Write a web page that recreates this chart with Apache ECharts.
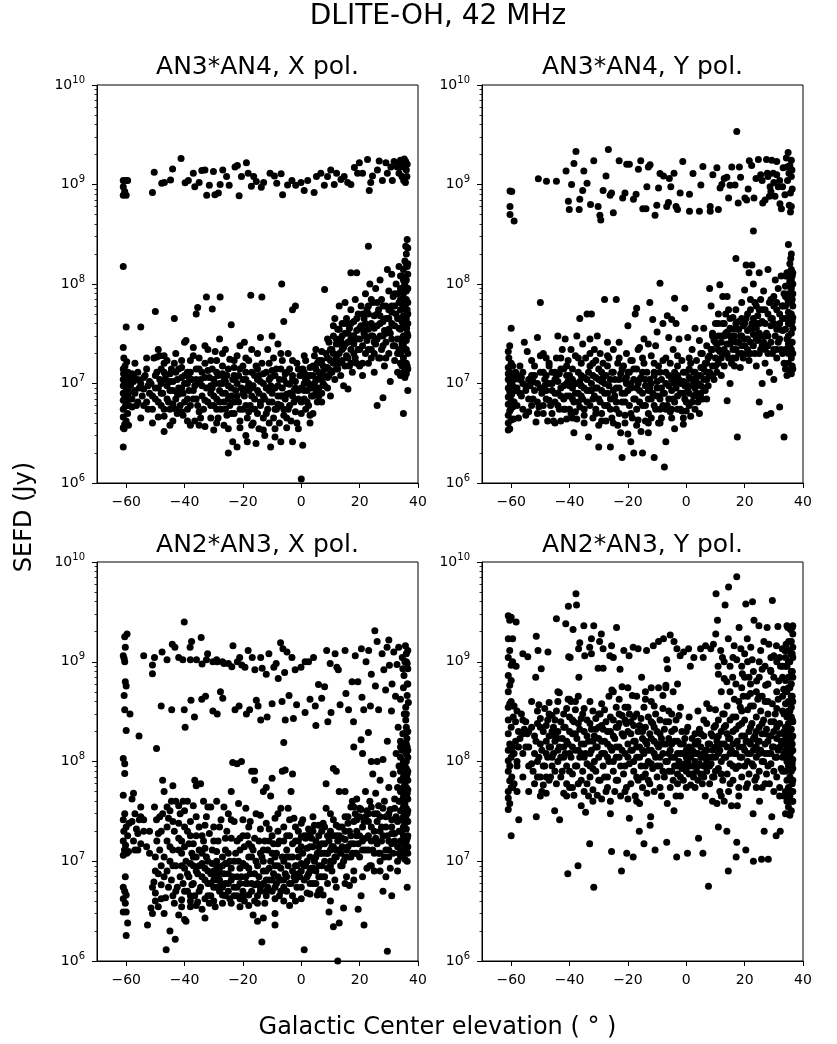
<!DOCTYPE html>
<html><head><meta charset="utf-8">
<script src="https://cdn.jsdelivr.net/npm/echarts@6/dist/echarts.min.js"></script>
<style>html,body{margin:0;padding:0;background:#fff}#c{width:837px;height:1044px}</style>
</head><body><div id="c"></div>
<script>
const SUPTITLE='DLITE-OH, 42 MHz';
const TITLES=['AN3*AN4, X pol.','AN3*AN4, Y pol.','AN2*AN3, X pol.','AN2*AN3, Y pol.'];
const X_LABEL='Galactic Center elevation ( \u00b0 )';
const Y_LABEL='SEFD (Jy)';
const X_TICKS=[-60,-40,-20,0,20,40];
const X_MIN=-70, X_MAX=40, Y_MIN=1e6, Y_MAX=1e10;

// ---- AN3*AN4, X pol. ----
const an34x_upper=[[-61,1.1e9],[-60,1.1e9],[-61,9.5e8],[-60.5,8.5e8],[-60,7.8e8],[-59.5,1.1e9],[-61,7.8e8],[-51,8.3e8],[-50.4,1.33e9],[-47.8,1.03e9],[-46.9,1.05e9],[-44.8,1.11e9],[-44.1,1.43e9],[-41.2,1.83e9],[-39.8,1.04e9],[-38.7,1.1e9],[-37,1.3e9],[-36.5,9.5e8],[-35,1.05e9],[-34.1,1.38e9],[-33,1.4e9],[-32.4,7.8e8],[-31.5,9.8e8],[-30.1,1.35e9],[-29.6,7.9e8],[-28.4,8.2e8],[-27.8,1e9],[-26.9,1.4e9],[-25.6,1.2e9],[-24.7,9.8e8],[-22.7,1.5e9],[-21.9,1.55e9],[-21.3,7.7e8],[-20.5,1.2e9],[-18.8,1.65e9],[-18.2,1.3e9],[-17.1,9.6e8],[-16.3,1.2e9],[-15.4,1.07e9],[-13.7,9.4e8],[-12.9,1.05e9],[-10.7,1.3e9],[-9.2,1.22e9],[-8.4,1.03e9],[-6.9,1.28e9],[-6.4,7.9e8],[-4.7,9.9e8],[-3.2,1.1e9],[-1.9,9.8e8],[-0.1,1.05e9],[1,8.7e8],[2.2,1.1e9],[4.4,8.3e8],[5.2,1.2e9],[6.7,1.3e9],[7.9,9.8e8],[9,1.2e9],[10.1,1.4e9],[11.3,1e9],[12.1,1.3e9],[13.6,1.12e9],[14.7,1.2e9],[15.9,1.05e9],[17,1e9],[18.2,1.48e9],[19.3,1.3e9],[19.9,1.65e9],[21,1.3e9],[22.7,1.78e9],[23.3,8.7e8],[23.8,1.05e9],[24.4,1.22e9],[26.1,1.4e9],[26.7,1.72e9],[27.8,1.1e9],[29,1.65e9],[29.5,1.3e9],[30.7,1.5e9],[31.2,1.1e9],[31.8,1.7e9],[32.9,1.5e9],[33.5,1.3e9],[34,1.75e9],[34.6,1.5e9],[35.1,1.1e9],[35.5,1.55e9],[35.7,1.05e9],[36,1.4e9],[36.2,1.2e9],[35.8,1.7e9],[34.5,1.2e9],[33.2,1.62e9],[36.3,1.6e9],[35.3,1.8e9]];
const an34x_lower=[[-61,2.3e6],[-61,3.6e6],[-60.5,3.9e6],[-60,4.2e6],[-61,4.6e6],[-59.5,5e6],[-61,5.5e6],[-60.3,5.9e6],[-59.8,6.3e6],[-61,6.8e6],[-60.5,7.2e6],[-59.5,7.6e6],[-61,8e6],[-60,8.5e6],[-59.3,9e6],[-61,9.5e6],[-60.5,1.0e7],[-59.6,1.05e7],[-61,1.1e7],[-60.2,1.2e7],[-59.4,1.3e7],[-61,1.4e7],[-60.4,1.5e7],[-59.8,1.65e7],[-60.8,1.8e7],[-61,2.3e7],[-60,3.7e7],[-61,1.5e8],[-60.7,3.5e6],[-59.2,3.8e6],[-60,6.8e6],[-59,8.2e6],[-58.8,1.1e7],[-60.9,1.25e7],[-59.1,6e6],[-58.5,9.6e6],
[-58,7e6],[-57.5,1.05e7],[-57,8.5e6],[-56.5,6e6],[-56,1.1e7],[-55.5,9e6],[-55,3.7e7],[-54.5,7.5e6],[-54,1.15e7],[-53.5,1.2e7],[-53,6.5e6],[-52.5,5.5e6],[-52,8e6],[-51.5,1.0e7],[-51,5.5e6],[-50.5,1.8e7],[-50,5.3e7],[-50,7e6],[-49.5,1.85e7],[-49.5,1.3e7],
[-49,9e6],[-49,4.6e6],[-48.5,1.1e7],[-48.5,1.9e7],[-48,6e6],[-48,1.4e7],[-47.5,8e6],[-47,3.3e6],[-47,1.9e7],[-47,4.7e6],[-46.5,1.2e7],[-46,9.5e6],[-46,1.7e7],[-45.5,6.5e6],[-45,1.05e7],[-45,5.5e6],[-44.5,1.4e7],[-44,8.5e6],[-44,4.2e6],[-43.5,4.5e7],[-43.5,1.6e7],[-43,7e6],[-42.5,1.1e7],[-42.5,5e6],[-42,9e6],[-42,1.4e7],[-41.5,6e6],[-41,1.7e7],[-41,1.15e7],[-40.5,4.8e6],[-40.5,8e6],[-40,1.0e7],[-40,2.6e7],[-40,6.5e6],[-39.5,2.7e7],
[-39,1.3e7],[-39,5.5e6],[-38.5,8.5e6],[-38,3.8e6],[-38,1.7e7],[-37.5,1.1e7],[-37,7e6],[-37,2.3e7],[-36.5,4.2e6],[-36.5,9.5e6],[-36,5e7],[-36,1.4e7],[-35.5,6e6],[-35.5,5.8e7],[-35,1.0e7],[-35,1.8e7],[-34.5,4.5e6],[-34,7.5e6],[-34,1.3e7],[-33.5,5.5e6],[-33,1.6e7],[-33,3.7e6],[-32.5,9e6],[-32.5,7.4e7],[-32,2.2e7],[-32,6.5e6],[-31.5,1.15e7],[-31,4.5e6],[-31,8e6],[-30.5,1.4e7],[-30.5,5.6e7],[-30,3.4e6],[-30,6e6],[-29.5,1.0e7],[-29.5,2.1e7],[-29,7e6],[-29,1.7e7],[-28.5,4.5e6],[-28.5,1.2e7],[-28,8.5e6],[-28,2.8e7],[-27.8,7.4e7],[-27.5,5.5e6],[-27,1.0e7],[-27,1.5e7],[-26.5,6.5e6],[-26.5,3.8e6],[-26,8e6],[-26,2.2e7],[-25.5,1.2e7],[-25.5,4.8e6],[-25,2e6],[-25,9.5e6],[-24.5,6e6],[-24.5,1.75e7],[-24,3.9e7],[-24,7.5e6],[-23.5,1.1e7],[-23.5,2.6e6],[-23,5e6],[-23,1.45e7],[-22.5,8.5e6],[-22,2.3e6],[-22,1.9e7],[-21.5,6.5e6],[-21.5,1.2e7],[-21,3.6e6],[-21,2.4e7],[-20.5,9e6],[-20,5.5e6],[-20,1.5e7],
[-19.5,7.5e6],[-19.5,2.6e7],[-19,3e6],[-19,1.1e7],[-18.5,4.5e6],[-18.5,2.6e6],[-18,8.5e6],[-18,1.7e7],[-17.5,6e6],[-17.3,7.7e7],[-17,1.3e7],[-17,2.2e7],[-16.5,4e6],[-16.5,9.5e6],[-16,7e6],[-15.5,1.5e7],[-15.5,2.5e6],[-15,5e6],[-15,1.1e7],[-14.5,3.5e6],[-14.5,8e6],[-14,2.9e7],[-14,6e6],[-13.5,7.4e7],[-13.5,1.6e7],[-13,4.5e6],[-13,1.0e7],[-12.5,3e6],[-12.5,7e6],[-12,1.3e7],[-11.5,5.5e6],[-11.5,2.2e7],[-11,8.5e6],[-11,4e6],[-10.5,1.15e7],[-10.5,2.3e6],[-10,6.5e6],[-10,3e7],[-9.5,1.8e7],[-9.5,4.5e6],[-9,9e6],[-9,2.9e6],[-8.5,5.5e6],[-8.5,1.4e7],[-8,7.5e6],[-8,2.5e7],[-7.5,4e6],[-7.5,1.1e7],[-7,2.6e6],[-7,6e6],[-6.7,1.0e8],[-6.5,9e6],[-6.5,1.7e7],[-6,4.8e6],[-6,4.2e7],[-5.5,1.25e7],[-5.5,7e6],[-5,3.6e6],[-5,1.0e7],[-4.5,5.5e6],[-4.5,2e7],[-4,8e6],[-4,1.4e7],[-3.5,4.2e6],[-3,2.6e6],[-3,5.5e7],[-3,1.1e7],[-2.5,6.5e6],[-2,6e7],[-2,9e6],[-1.5,1.6e7],[-1.5,4e6],[-1,7e6],[-0.5,1.2e7],[0,5e6],[0,9e6],[0,1.1e6],[0.5,2.4e6],
[0.5,1.4e7],[1,7e6],[1,1.0e7],[1.5,5.5e6],[1.5,1.7e7],[2,8.5e6],[2,1.2e7],[2.5,6e6],[2.5,1.0e7],[3,4.8e6],[3,1.45e7],[3.5,9e6],[3.5,7.5e6],[4,1.2e7],[4,5e6],[4.5,1.9e7],[4.5,1.0e7],[5,8e6],[5,1.4e7],[5.5,6.5e6],[5.5,1.1e7],[6,1.7e7],[6,9e6],[6.5,1.25e7],[7,6.5e6],[7,2.1e7],[7.5,1.0e7],[7.5,1.5e7],[8,8.8e7],[8,1.2e7],[8.5,2.0e7],[9,9e6],[9,1.45e7],[9.5,2.6e7],[9.5,1.2e7],[10,1.7e7],[10,7.5e6],
[10.5,2.2e7],[10.5,1.3e7],[11,3e7],[11,1.6e7],[11.5,1.1e7],[11.5,4.5e7],[12,2.5e7],[12,1.8e7],[12.5,3.5e7],[12.5,1.4e7],[13,2e7],[13,6e7],[13.5,2.8e7],[13.5,1.2e7],[14,4e7],[14,1.7e7],[14.5,2.3e7],[14.5,9.5e6],[15,3.2e7],[15,6.5e7],[15.5,1.9e7],[15.5,4.5e7],[16,2.6e7],[16,8.8e6],[16.5,1.5e7],[16.5,3.6e7],[17,5.5e7],[17,1.3e8],[17,2.2e7],[17.5,3e7],[17.5,1.3e7],[18,4.2e7],[18,2.5e7],[18.5,7e7],[18.5,1.8e7],[19,1.3e8],[19,3.4e7],[19.5,2.2e7],[19.5,5e7],[20,1.5e7],[20,2.8e7],[20.5,3.8e7],[20.5,6e7],[21,2.4e7],[21,1.2e7],[21.5,4.5e7],[21.5,3.2e7],[22,2e7],[22,8e7],[22.5,2.7e7],[22.5,5.5e7],[23,2.4e8],[23,3.5e7],[23,1.6e7],[23.5,1.0e8],[24,4e7],[24,2.2e7],[24.5,6.5e7],[24.5,3e7],[25,1.3e7],[25,4.8e7],[25.5,2.5e7],[25.5,9e7],[26,6e6],[26,3.8e7],[26.5,1.8e7],[26.5,5.5e7],[27,1.1e8],[27,3e7],[27.5,2.2e7],[27.5,7e7],[28,7.2e6],[28,4.2e7],[28.5,1.5e7],[28.5,3.4e7],[29,6e7],[29,2.6e7],[29.5,1.4e8],[29.5,4.5e7],[30,2e7],[30,8.5e7],[30.5,3.2e7],[30.5,1.05e7],[31,5.2e7],[31,1.25e8],[31.5,2.4e7],[31.5,7.5e7],[32,3.8e7],[32,1.7e7],[32.5,1.0e8],[32.5,5e7],[33,2.8e7],[33,1.3e7],[33.5,6.5e7],[33.5,1.5e8],
[34,1.2e7],[34,2e7],[34,3.5e7],[34,5.5e7],[34,9e7],[34.5,1.5e7],[34.5,2.5e7],[34.5,4.2e7],[34.5,7e7],[34.5,1.2e8],[35,5e6],[35,1.3e7],[35,1.8e7],[35,3e7],[35,4.8e7],[35,8e7],[35,1.4e8],[35.5,1.15e7],[35.5,2.2e7],[35.5,3.8e7],[35.5,6e7],[35.5,1.0e8],[35.5,1.7e8],[36,1.25e7],[36,1.6e7],[36,2.7e7],[36,4.5e7],[36,7e7],[36,1.1e8],[36,2e8],[36.3,2.8e8],[36.3,1.5e7],[36.3,3.2e7],[36.3,5.5e7],[36.3,9e7],[36.3,1.5e8],[36.5,8.5e6],[36.5,2e7],[36.5,4e7],[36.5,6.5e7],[36.5,1.25e8],[35.8,2.4e8],[34.8,6e7],[35.3,9.5e7],[36.1,3.6e7]];
const an34x_core=[[-58,5.8e6],[-58,1.25e7],[-57,8e6],[-56,6.5e6],[-56,1.3e7],[-55,1.0e7],[-54,6e6],[-54,8.8e6],[-53,1.4e7],[-52,1.05e7],[-51,7.5e6],[-50,9e6],[-50,1.2e7],[-49,6.5e6],[-48,8e6],[-48,1.0e7],[-47,1.3e7],[-47,5.5e6],[-46,7e6],[-45,8.5e6],[-45,1.25e7],[-44,1.05e7],[-44,6.2e6],[-43,5.5e6],[-43,1.3e7],[-42,7.8e6],[-41,9e6],[-41,5.2e6],[-40,1.2e7],[-39,7e6],[-39,1.0e7],[-38,6e6],[-38,1.3e7],[-37,8.5e6],[-36,1.1e7],[-36,7e6],[-35,1.4e7],[-35,5.2e6],[-34,9.5e6],[-33,6.8e6],[-33,1.15e7],[-32,1.35e7],[-31,9.5e6],[-31,6e6],[-30,7.5e6],[-30,1.1e7],[-29,5.5e6],[-29,1.3e7],[-28,1.0e7],[-28,6.5e6],[-27,8e6],[-27,1.25e7],[-26,5.5e6],[-26,1.05e7],[-25,7e6],[-25,1.4e7],[-24,9e6],[-24,5e6],[-23,6.5e6],[-23,1.2e7],[-22,1.0e7],[-22,7.5e6],[-21,5.5e6],[-21,1.4e7],[-20,8e6],[-20,1.1e7],[-19,6e6],[-19,1.3e7],[-18,1.0e7],[-18,5.2e6],[-17,7.5e6],[-17,9e6],[-16,1.2e7],[-16,5.5e6],[-15,8.5e6],[-15,1.4e7],[-14,6.5e6],[-14,1.05e7],[-13,7.5e6],[-13,1.25e7],[-12,5e6],[-12,9e6],[-11,6.5e6],[-11,1.1e7],[-10,8e6],[-10,1.35e7],[-9,5.5e6],[-9,1.2e7],[-8,9.5e6],[-8,6.2e6],[-7,7.5e6],[-7,1.4e7],[-6,1.1e7],[-6,5.5e6],[-5,7.8e6],[-5,1.3e7],[-4,6e6],[-4,9.8e6],[-3,1.2e7],[-3,7.5e6],[-2,5.2e6],[-2,1.05e7],[-1,8.5e6],[-1,1.4e7],[0,6.5e6],[0,1.2e7],[1,8.5e6],[1,1.3e7],[2,6.5e6],[2,1.05e7],[3,9.5e6],[3,1.2e7],[4,7.5e6],[4,1.5e7],[5,1.1e7],[5,9e6],[6,1.3e7],[6,7.5e6],[7,1.1e7],[7,1.7e7],[8,1.4e7],[8,9.5e6],[9,1.8e7],[9,1.15e7],[10,1.35e7],[10,2.2e7],
[11,2e7],[12,2.8e7],[12,1.4e7],[13,1.6e7],[13,3.5e7],[14,2.2e7],[14,3e7],[15,1.5e7],[15,2.5e7],[16,3.2e7],[16,1.8e7],[17,4e7],[17,1.6e7],[18,2e7],[18,3e7],[19,2.8e7],[19,4.5e7],[20,2.2e7],[20,3.6e7],[21,1.6e7],[21,5e7],[22,3e7],[22,4e7],[23,2.2e7],[23,5e7],[24,3e7],[24,7e7],[25,3.6e7],[25,2e7],[26,5e7],[26,2.8e7],[27,4e7],[27,1.8e7],[28,3e7],[28,6e7],[29,4.5e7],[29,1.8e7],[30,3.5e7],[30,5.5e7],[31,2.8e7],[31,4e7],[32,6e7],[32,2.4e7],[33,4.5e7],[33,8e7],[33.5,2.2e7],[33.5,3.6e7],[34,1.6e7],[34,2.8e7],[34,4.5e7],[34,7e7],[34,1.2e8],[35,2.4e7],[35,3.8e7],[35,6.5e7],[35,1.1e8],[36,2.2e7],[36,5.5e7],[36,8.5e7],[36,1.6e8],[36.5,3e7],[36.5,5e7],[36.5,9e7],[36.5,1.6e8],[36.5,1.4e7],[36.5,2.3e8]];
const an34x_edge=[[-57,1.6e7],[-55,4.5e6],[-53,1.8e7],[-51,4e6],[-49,2.2e7],[-47,1.6e7],[-45,3.8e6],[-43,2e7],[-41,1.45e7],[-39,4.2e6],[-37,1.9e7],[-35,3.8e6],[-33,2.4e7],[-31,1.7e7],[-29,4e6],[-27,2e7],[-25,3.5e6],[-23,1.7e7],[-21,4.2e6],[-19,1.8e7],[-17,3.8e6],[-15,2e7],[-13,3.4e6],[-11,1.6e7],[-9,3.5e6],[-7,2e7],[-5,4.5e6],[-3,1.7e7],[-1,3.5e6],[1,1.9e7],[3,4e6],[5,2.2e7],[7,8e6],[9,2.8e7],[-57.5,1.2e7],[-52.5,9.5e6],[-46.5,1.1e7],[-42.5,8e6],[-38.5,1.15e7],[-34.5,1.1e7],[-30.5,9e6],[-26.5,1.15e7],[-22.5,1.15e7],[-18.5,9e6],[-14.5,1.2e7],[-10.5,9.5e6],[-6.5,7.5e6],[-2.5,8.5e6],[1.5,1.1e7],[5.5,1.6e7],[11,3.8e7],[13,2.5e7],[15,4e7],[17,2.8e7],[19,1.6e7],[21,3.5e7],[23,6e7],[25,2.6e7],[27,4.8e7],[29,3.2e7],[31,6e7],[33,2e7],[32,8e7],[30,4.5e7],[28,2.4e7],[26,6.5e7],[24,1.8e7],[22,5e7]];

// ---- AN3*AN4, Y pol. ----
const an34y_upper=[[-60.4,8.6e8],[-59.8,8.5e8],[-60.4,6.0e8],[-60.4,5.0e8],[-59,4.3e8],[-50.7,1.14e9],[-47.9,1.08e9],[-44.5,1.08e9],[-41.2,1.37e9],[-40.4,6.8e8],[-40.1,5.6e8],[-39.3,1.0e9],[-38.5,1.63e9],[-37.8,2.14e9],[-36.7,5.6e8],[-36.5,7.1e8],[-35.5,8.7e8],[-35.1,1.37e9],[-34,1.03e9],[-32.8,6.3e8],[-31.7,1.73e9],[-30.2,6.0e8],[-29.6,4.9e8],[-29.3,4.4e8],[-28.5,8.7e8],[-27.5,1.22e9],[-26.7,2.25e9],[-26.1,7.8e8],[-25.6,8.2e8],[-25,5.2e8],[-23,1.73e9],[-21.8,7.3e8],[-21,8.2e8],[-20.4,1.6e9],[-19.5,1.6e9],[-18.1,7.1e8],[-17.2,8e8],[-16.4,1.42e9],[-15.6,1.73e9],[-14.9,5.7e8],[-13.8,5.7e8],[-13.5,9.5e8],[-13,1.5e9],[-12.4,1.58e9],[-10.7,4.9e8],[-10.1,6.2e8],[-9.5,9.2e8],[-9,1.29e9],[-7.8,1.22e9],[-6.7,6.0e8],[-6.1,6.6e8],[-5.8,1.15e9],[-5.3,9.5e8],[-4.2,1.3e9],[-3.5,6.0e8],[-3,5.6e8],[-2.1,8.2e8],[-1.2,1.7e9],[1.1,8.0e8],[1.1,5.4e8],[2.3,1.29e9],[4.5,5.4e8],[5,9.9e8],[5.7,1.52e9],[8.2,6e8],[8.2,5.4e8],[9.1,1.25e9],[10.5,1.47e9],[11,5.6e8],[11.6,9.2e8],[12.2,1e9],[13,1.15e9],[13.9,1.18e9],[14.5,7.3e8],[15,9.8e8],[15.6,1.5e9],[16.7,9.9e8],[17.3,3.4e9],[17.8,6.5e8],[18.2,1.5e9],[18.6,1.18e9],[20.1,7.3e8],[20.7,7e8],[21.2,9e8],[21.6,1.73e9],[22.4,1.55e9],[23.2,7.3e8],[23.9,1.15e9],[24.7,1.78e9],[25.5,1.25e9],[26.2,6.5e8],[27,7e8],[27.5,1.78e9],[27.8,1.3e9],[28.5,7.6e8],[28.7,9.5e8],[29.3,1.75e9],[29.8,1.3e9],[30.4,7.6e8],[31,1.7e9],[31.5,9.5e8],[32.1,6.4e8],[32.6,5.7e8],[33.2,1.47e9],[33.8,7.9e8],[34.3,1.85e9],[34.7,1.1e9],[34.9,2.1e9],[35.3,6.2e8],[35.5,1.55e9],[35.7,8.2e8],[36,1.75e9],[36,1.2e9],[36,6e8],[35.7,5.3e8],[36.2,1.4e9],[35.2,1.3e9],[36.3,9e8],[34.5,1.5e9],[26,1.1e9],[28,1.2e9],[30,1.05e9],[31,1.25e9],[32,1.1e9],[29,8.5e8],[33,9.5e8]];
const an34y_lower=[[-61,3.4e6],[-60.5,3.5e6],[-61,4e6],[-60,4.3e6],[-61,4.8e6],[-60.5,5.3e6],[-59.5,5.8e6],[-61,6.2e6],[-60,6.8e6],[-61,7.3e6],[-59.8,7.8e6],[-60.5,8.3e6],[-61,9e6],[-59.5,9.5e6],[-60.3,1.0e7],[-61,1.1e7],[-59.7,1.2e7],[-60.5,1.3e7],[-61,1.45e7],[-60,1.6e7],[-59.5,1.5e7],[-60.8,1.8e7],[-61,2.1e7],[-60.5,2.4e7],[-60,3.6e7],[-59,1.1e7],[-59,6.5e6],[-58.5,8.5e6],[-59.2,4.4e6],[-58.5,1.3e7],[-61,1.25e7],[-60.2,5.5e6],
[-58,9e6],[-57.5,4.5e6],[-57,1.1e7],[-56.5,7.5e6],[-56,1.0e7],[-55.5,2.6e7],[-55,8.5e6],[-54.5,2.1e7],[-54,5.2e6],[-53.5,9.5e6],[-53,1.2e7],[-52.5,7e6],[-52,1.5e7],[-51.5,4.1e6],[-51,2.9e7],[-51,1.0e7],[-50.5,5.8e6],[-50,6.5e7],[-50,1.9e7],[-49.5,8e6],[-49,1.3e7],[-49,5e6],[-48.5,1.1e7],[-48,1.8e7],[-48,7e6],[-47.5,4.2e6],[-47,1.0e7],[-47,1.6e7],[-46.5,6e6],[-46,1.3e7],[-46,8.5e6],[-45.5,4.2e6],[-45,1.1e7],[-45,6.5e6],[-44.5,1.8e7],[-44,8e6],[-44,3e7],[-43.5,5.5e6],[-43.5,1.25e7],[-43,4.2e6],[-43,9e6],[-42.5,2.2e7],[-42,7e6],[-42,1.4e7],[-41.5,5.5e6],[-41.5,2.8e7],[-41,1.0e7],[-41,4.4e6],[-40.5,1.7e7],[-40,7.5e6],[-40,1.2e7],
[-39.5,2.2e7],[-39.5,5e6],[-39,9e6],[-39,1.4e7],[-38.5,3.2e6],[-38.5,6.5e6],[-38,1.9e7],[-38,1.0e7],[-37.5,3e7],[-37.5,4.4e6],[-37,8e6],[-37,1.3e7],[-36.5,4.5e7],[-36.5,5.8e6],[-36,1.6e7],[-36,9.5e6],[-35.5,2.5e7],[-35.5,7e6],[-35,1.15e7],[-35,4.8e6],[-34.5,1.8e7],[-34,8.5e6],[-34,5e7],[-33.5,2.9e6],[-33.5,1.3e7],[-33,6e6],[-33,2.8e7],[-32.5,1.0e7],[-32.5,5e7],[-32,4.5e6],[-32,1.6e7],[-31.5,7.5e6],[-31.5,2.2e7],[-31,1.15e7],[-31,5.5e6],[-30.5,3e7],[-30.5,9e6],[-30,2.3e6],[-30,3.8e6],[-30,1.4e7],[-29.5,6.5e6],[-29.5,2e7],[-29,1.05e7],[-29,5e6],[-28.5,1.6e7],[-28,7e7],[-28,8e6],[-27.5,1.2e7],[-27.5,4.2e6],[-27,2.6e7],[-27,6e6],[-26.5,9.5e6],[-26.5,1.8e7],[-26,2.3e6],[-26,7e6],[-25.5,1.3e7],[-25.5,4.5e6],[-25,2.2e7],[-25,8.5e6],[-24.5,1.1e7],[-24,7e7],[-24,5.5e6],[-23.5,1.6e7],[-23.5,3.8e6],[-23,9e6],[-23,2.6e7],[-22.5,1.25e7],[-22.5,3.2e6],[-22,1.8e6],[-22,6.5e6],[-21.5,1.5e7],[-21,8e6],[-21,4.8e6],[-20.5,2e7],[-20.5,1.0e7],[-20,3.1e6],[-20,3.8e7],
[-19.5,6e6],[-19.5,1.3e7],[-19,2.6e6],[-19,9e6],[-18.5,1.7e7],[-18.5,4.5e6],[-18,2e6],[-18,1.1e7],[-17.5,7e6],[-17.5,5e7],[-17,5.7e7],[-17,1.4e7],[-16.5,4.3e6],[-16.5,2.2e7],[-16,8.5e6],[-16,2.3e7],[-15.5,1.15e7],[-15.5,3.3e6],[-15,2e6],[-15,6e6],[-14.5,1.6e7],[-14.5,2.8e7],[-14,9.5e6],[-14,4.2e6],[-13.5,1.3e7],[-13,3.2e6],[-13,2.5e7],[-13,7e6],[-12.5,6.5e7],[-12.5,1.1e7],[-12,4.5e6],[-12,1.9e7],[-11.5,4.4e7],[-11.5,8e6],[-11,1.8e6],[-11,1.3e7],[-10.5,2.4e7],[-10.5,5.5e6],[-10,9e6],[-10,3.3e7],[-9.5,1.5e7],[-9.5,4e6],[-9,1.02e8],[-9,7e6],[-8.5,1.1e7],[-8.5,4.5e6],[-8,1.7e7],[-8,4e7],[-7.5,8e6],[-7.5,1.45e6],[-7,2.6e6],[-7,1.3e7],[-6.5,4.8e7],[-6.5,6e6],[-6,2.9e7],[-6,9.5e6],[-5.5,1.6e7],[-5.5,5.2e6],[-5,1.1e7],[-5,4.4e7],[-4.5,7e6],[-4.5,2.2e7],[-4,3.5e6],[-4,7.2e7],[-4,1.3e7],[-3.5,9e6],[-3.5,4e7],[-3,5.5e6],[-3,1.5e7],[-2.5,1.1e7],[-2.5,2.8e7],[-2,8e6],[-1.5,5.3e6],[-1.5,1.7e7],[-1,1.05e7],[-1,3.9e6],[-0.5,5.7e7],[-0.5,7e6],[0,1.3e7],[0,5.3e6],
[0.5,9e6],[0.5,2.9e7],[1,6e6],[1,1.15e7],[1.5,1.6e7],[1.5,4.7e6],[2,9.5e6],[2,2.2e7],[2.5,7.5e6],[2.5,1.3e7],[3,3.6e7],[3,1.05e7],[3.5,8e6],[3.5,1.7e7],[4,6.5e6],[4,1.2e7],[4.5,2.7e7],[4.5,5e6],[5,9.5e6],[5,1.45e7],[5.5,2e7],[5.5,7e6],[6,1.1e7],[6,3.6e7],[6.5,1.6e7],[6.5,8.5e6],[7,1.3e7],[7,2.4e7],[7.5,9.5e6],[7.5,1.8e7],[8,9e7],[8,1.2e7],[8.5,6e7],[8.5,2.2e7],[9,1.5e7],[9,3.2e7],[9.5,1.1e7],[9.5,2.7e7],[10,1.8e7],[10,4e7],
[10.5,1.3e7],[10.5,2.5e7],[11,5e7],[11,1.6e7],[11.5,9.8e7],[11.5,2.1e7],[12,3e7],[12,1.2e7],[12.5,7.5e7],[12.5,4e7],[13,2.2e7],[13,1.5e7],[13.5,5e7],[13.5,3.2e7],[14,6.7e6],[14,7.5e7],[14,2.5e7],[14.5,1.8e7],[14.5,5.5e7],[15,1e7],[15,3.6e7],[15.5,2.8e7],[15.5,1.6e7],[16,4.6e7],[16,2.2e7],[16.5,3e7],[16.5,1.5e7],[17,1.8e8],[17,5.5e7],[17,2.6e7],[17.5,3.5e7],[17.5,2.9e6],[18,2e7],[18,4.2e7],[18.5,1.45e7],[18.5,3e7],[19,2.4e7],[19,6.5e7],[19.5,3.8e7],[19.5,1.8e7],[20,8.7e7],[20,2.8e7],[20.5,1.55e8],[20.5,4.5e7],[21,2.2e7],[21,3.4e7],[21.5,1.3e8],[21.5,1.7e7],[22,5.5e7],[22,2.6e7],[22.5,4e7],[22.5,1.55e8],[23,3.1e7],[23,1.0e8],[23,3.4e8],[23.5,2e7],[23.5,6.5e7],[24,3.6e7],[24,1.5e7],[24.5,4.8e7],[24.5,2.7e7],[25,6.5e6],[25,1.3e8],[25,3.2e7],[25.5,2.2e7],[25.5,7e7],[26,1e7],[26,4.2e7],[26.5,2.6e7],[26.5,8.5e7],[27,1.6e7],[27,5.5e7],[27.5,3.2e7],[27.5,4.8e6],[28,1.4e8],[28,2.4e7],[28.5,6.5e7],[28.5,1.3e7],[29,3.8e7],[29,5e6],[29.5,4.5e7],[29.5,2e7],[30,1.1e7],[30,7.5e7],[30.5,3e7],[30.5,1.1e8],[31,5.5e7],[31,1.8e7],[31.5,9e7],[31.5,2.6e7],[32,4e7],[32,5.8e6],[32.5,1.2e8],[32.5,2.2e7],[33,6e7],[33,3.4e7],
[33.5,2.9e6],[34,1.4e7],[34,2.2e7],[34,3.5e7],[34,6e7],[34,9.5e7],[34.5,1.2e7],[34.5,2.8e7],[34.5,4.5e7],[34.5,1.3e8],[35,1.6e7],[35,2e7],[35,3e7],[35,5.2e7],[35,8e7],[35,2.5e8],[35.5,1.35e7],[35.5,2.4e7],[35.5,4e7],[35.5,6.8e7],[35.5,1.1e8],[35.5,1.6e8],[36,1.25e7],[36,1.8e7],[36,3.2e7],[36,5e7],[36,9e7],[36,1.4e8],[36,2e8],[36.3,1.5e7],[36.3,2.6e7],[36.3,4.2e7],[36.3,7e7],[36.3,1.2e8],[36.5,2e7],[36.5,3.6e7],[36.5,6e7],[36.5,1e8],[35.8,1.8e8],[34.8,7e7],[35.3,1.0e8]];
const an34y_core=[[-58,6e6],[-58,1.2e7],[-57,8e6],[-56,5.5e6],[-56,1.3e7],[-55,9.5e6],[-54,7e6],[-54,1.1e7],[-53,6e6],[-52,8.5e6],[-52,1.2e7],[-51,6.5e6],[-50,9e6],[-50,1.3e7],[-49,6e6],[-48,8.5e6],[-48,1.2e7],[-47,6.8e6],[-46,5e6],[-46,1.0e7],[-45,8e6],[-45,1.3e7],[-44,6e6],[-44,1.05e7],[-43,7.5e6],[-43,1.4e7],[-42,5.5e6],[-42,9.5e6],[-41,7.5e6],[-41,1.2e7],[-40,5.5e6],[-40,9.5e6],[-39,7e6],[-39,1.1e7],[-38,8e6],[-38,5.2e6],[-37,1.0e7],[-37,6.5e6],[-36,7.5e6],[-36,1.2e7],[-35,9e6],[-35,5.5e6],[-34,6.5e6],[-34,1.1e7],[-33,8.5e6],[-33,1.5e7],[-32,7e6],[-32,1.2e7],[-31,9e6],[-31,5e6],[-30,1.1e7],[-30,7e6],[-29,8.5e6],[-29,1.3e7],[-28,6e6],[-28,1.0e7],[-27,8e6],[-27,1.5e7],[-26,5.5e6],[-26,1.1e7],[-25,7e6],[-25,1.3e7],[-24,9e6],[-24,6.5e6],[-23,1.1e7],[-23,5e6],[-22,8e6],[-22,1.4e7],[-21,6.5e6],[-21,1.1e7],[-20,8.5e6],[-20,1.3e7],[-19,5e6],[-19,1.0e7],[-18,7e6],[-18,1.4e7],[-17,9e6],[-17,5.5e6],[-16,1.1e7],[-16,6.5e6],[-15,8e6],[-15,1.3e7],[-14,6e6],[-14,1.1e7],[-13,8.5e6],[-13,5e6],[-12,1.0e7],[-12,7e6],[-11,6e6],[-11,1.2e7],[-10,7.5e6],[-10,1.05e7],[-9,5.5e6],[-9,1.3e7],[-8,8e6],[-8,6e6],[-7,1.0e7],[-7,5.5e6],[-6,7e6],[-6,1.2e7],[-5,8.5e6],[-5,5.5e6],[-4,1.0e7],[-4,6.5e6],[-3,1.2e7],[-3,7.5e6],[-2,5.5e6],[-2,1.0e7],[-1,8e6],[-1,1.3e7],[0,6.5e6],[0,1.0e7],[1,8e6],[1,1.4e7],[2,6.5e6],[2,1.1e7],[3,9e6],[3,1.3e7],[4,7.5e6],[4,1.0e7],[5,1.2e7],[5,8e6],[6,1.4e7],[6,9e6],[7,1.1e7],[7,1.6e7],[8,1.3e7],[8,1.9e7],[9,1.2e7],[9,2.2e7],[10,1.5e7],[10,2.6e7],[11,2.2e7],[11,3e7],[12,1.8e7],[12,2.6e7],[13,3e7],[13,4e7],[14,2e7],[14,3.3e7],[15,2.5e7],[15,4.5e7],[16,1.8e7],[16,3.5e7],[17,2.2e7],[17,4e7],[18,2.6e7],[18,3.5e7],[19,2e7],[19,3e7],[20,2.4e7],[20,4e7],[21,2.8e7],[21,5e7],[22,2e7],[22,3.6e7],[23,2.4e7],[23,4.5e7],[24,2.8e7],[24,6e7],[25,2e7],[25,4e7],[26,3e7],[26,5.5e7],[27,2.2e7],[27,4e7],[28,3e7],[28,5e7],[29,2.6e7],[29,7e7],[30,4e7],[30,2.2e7],[31,3.5e7],[31,6.5e7],[32,2.8e7],[32,5e7],[33,2e7],[33,4.5e7],[33.5,8e7],[33.5,1.6e7],[34,4.5e7],[34,7.5e7],[34,1.2e8],[35,2.5e7],[35,4e7],[35,6.5e7],[35,1.2e8],[36,2.2e7],[36,4e7],[36,6.5e7],[36,1.1e8],[36.5,1.4e7],[36.5,4.6e7],[36.5,8e7],[36.5,1.3e8]];
const an34y_edge=[[-57,1.5e7],[-55,4.8e6],[-53,1.7e7],[-51,5e6],[-49,2e7],[-47,1.5e7],[-45,4e6],[-43,1.8e7],[-41,1.5e7],[-39,4.5e6],[-37,1.8e7],[-35,4e6],[-33,2e7],[-31,1.7e7],[-29,4.2e6],[-27,1.9e7],[-25,4e6],[-23,1.8e7],[-21,4e6],[-19,1.7e7],[-17,3.8e6],[-15,1.8e7],[-13,4e6],[-11,1.6e7],[-9,4e6],[-7,1.8e7],[-5,4.5e6],[-3,1.9e7],[-1,4.5e6],[1,1.8e7],[3,5.5e6],[5,2e7],[7,7e6],[9,3e7],[-56.5,1.15e7],[-52.5,1.05e7],[-48.5,9.5e6],[-44.5,1.2e7],[-40.5,1.05e7],[-36.5,1.05e7],[-32.5,8.5e6],[-28.5,1.15e7],[-24.5,7.5e6],[-20.5,1.15e7],[-16.5,1.0e7],[-12.5,9e6],[-8.5,9e6],[-4.5,1.15e7],[-0.5,9.5e6],[3.5,1.15e7],[11,4e7],[13,2e7],[15,3e7],[17,1.8e7],[19,4.5e7],[21,2e7],[23,3.6e7],[25,5.5e7],[27,3e7],[29,4.5e7],[31,2.2e7],[33,6e7],[32,3.5e7],[30,6e7],[28,2e7],[26,2.4e7],[24,4e7],[22,7e7]];

// ---- AN2*AN3, X pol. ----
const an23x_upper=[[-60.7,1.08e9],[-60.5,1.78e9],[-59.7,1.9e9],[-60.3,1.4e9],[-60.5,1e9],[-61,1.15e9],[-60.3,6.3e8],[-60,5.7e8],[-60.5,3.3e8],[-58.7,3e8],[-60,2.05e8],[-60.7,4.6e8],[-55.6,1.8e8],[-54,1.15e9],[-51,9.3e8],[-51,7.6e8],[-50.3,1.1e9],[-49.6,1.35e8],[-47.7,1.25e9],[-48,3.6e8],[-44.2,1.5e9],[-44.4,3.3e8],[-43.3,1.4e9],[-40.6,1.05e9],[-40.1,2.5e9],[-40.1,3.3e8],[-39.8,2.2e8],[-38.1,1.4e9],[-37.8,4.1e8],[-37.6,1.6e9],[-36.6,2.8e8],[-35.9,1.05e9],[-34.3,1.75e9],[-34.1,4.2e8],[-32.8,4.5e8],[-32.1,1.2e9],[-32.5,1.05e9],[-30.3,1e9],[-30.3,3.2e8],[-28.8,3e8],[-28.8,1e9],[-27.7,5e8],[-26.9,4.3e8],[-26.5,9.6e8],[-25,9.6e8],[-23.8,8.9e8],[-23.4,1.45e9],[-22.7,3.3e8],[-21.9,1e9],[-21.3,3.6e8],[-21.1,1.1e9],[-20.4,9.3e8],[-19.3,8.8e8],[-18.8,3e8],[-18.2,1.3e9],[-17.7,3.3e8],[-16.8,1.1e9],[-15.9,8.3e8],[-15.4,4.1e8],[-14.8,3.6e8],[-13.9,1.1e9],[-13.9,2.6e8],[-13.4,8.6e8],[-12,7.5e8],[-11.7,2.8e8],[-11.1,1.2e9],[-10,3.8e8],[-9.4,8.8e8],[-8.6,9.6e8],[-7.9,6.8e8],[-7.1,1.55e9],[-6.6,4e8],[-6.3,1.35e9],[-6,1.55e8],[-5.7,7.8e8],[-5.5,2.6e8],[-4.9,1.25e9],[-4.2,4.6e8],[-3.2,1.1e9],[-2.7,2.7e8],[-2.1,8.3e8],[-1.6,3.7e8],[-0.1,8.8e8],[1.3,1e9],[1.3,3.1e8],[2.5,1e9],[3,4.2e8],[4.2,1.1e9],[4.8,3.6e8],[5,2.3e8],[5.9,5.9e8],[7,4.3e8],[8,5.6e8],[8.7,1.3e9],[9.1,2.5e8],[9.9,9.6e8],[10.2,3.1e8],[11.6,1.2e9],[12.2,8.8e8],[12.7,8.3e8],[13.3,3.7e8],[15,1.3e9],[15.3,4.8e8],[16.2,3.3e8],[17.4,6.3e8],[17.9,2.5e8],[18.5,1.15e9],[19.4,6.3e8],[20.6,1.35e9],[20.8,4.4e8],[21.4,3.3e8],[22.2,1e9],[23.1,1.3e9],[23.7,3.6e8],[24,7.5e8],[25.2,2.05e9],[25.4,5.7e8],[26,1.6e9],[26.5,3.3e8],[27.7,1.2e9],[28.3,8.3e8],[28.9,5.2e8],[29.4,1.4e9],[30,1.65e9],[30.2,9.2e8],[30.9,3.2e8],[31.1,6e8],[31.7,1.25e9],[32.3,4.5e8],[32.8,9.4e8],[33.2,2.2e8],[33.4,1.4e9],[34,4.2e8],[34.6,1.1e9],[35.2,7.3e8],[35.7,1.45e9],[36,1.95e8],[36.3,4.6e8],[36.3,9.6e8],[36.3,6e8],[36.7,3.9e8],[-46,1.05e9],[-42,1.1e9],[-38,1.05e9],[-34,9.5e8],[-29,1.05e9],[-27,1e9],[36,1.2e9],[35.5,1e9],[34.8,8.5e8],[36.5,1.3e9],[35,5.5e8],[36,3e8],[34,1.6e8],[35.5,1.3e8]];
const an23x_lower=[[-61,1.07e8],[-60.5,9.5e7],[-60.5,7.6e7],[-61,4.6e7],[-60.5,3e7],[-61,2.6e7],[-60,2.2e7],[-60.8,2e7],[-59.5,1.8e7],[-61,1.6e7],[-60.2,1.45e7],[-60.6,1.3e7],[-59.8,1.2e7],[-61,1.15e7],[-60.3,7e6],[-61,5.5e6],[-60.5,5e6],[-60,4.6e6],[-61,4.2e6],[-60.3,3.8e6],[-61,3.1e6],[-60,3.1e6],[-59.5,2.4e6],[-60,1.8e6],[-59.2,1.25e7],[-59,2.4e7],
[-58,4.2e7],[-57.5,4.8e7],[-57.5,1.6e7],[-57,3e7],[-56.5,2.1e7],[-56,1.9e7],[-56,1.3e7],[-55.5,2.6e7],[-55,2.8e7],[-54,2.6e7],[-53,1.4e7],[-52.7,2.3e6],[-51.5,3.4e6],[-51,3e6],[-51,5.5e6],[-50.5,6.2e6],[-50.3,3.5e7],[-50,1.1e7],[-50,4.8e6],[-49.6,2.6e7],[-49.5,1.6e7],[-49,7.5e6],[-49,3.5e6],[-48.5,1.3e7],[-48.5,2.8e7],[-48,5.8e6],[-48,9e6],[-47.5,6.5e7],[-47.5,3e7],[-47,1.1e7],[-47,5e7],[-46.5,4.3e6],[-46.3,1.3e6],[-46,8e6],[-46,1.6e7],[-45.5,2.7e7],[-45.5,5.5e6],[-45,2e6],[-45,1.0e7],[-44.5,4e7],[-44.5,6.5e6],[-44,5.7e7],[-44,1.3e7],[-43.5,3.8e6],[-43.5,2e7],[-43.2,1.65e6],[-43,9e6],[-43,4e7],[-42.5,5.5e6],[-42,1.7e7],[-42,2.9e6],[-41.5,7e6],[-41.5,3e7],[-41,1.2e7],[-41,4.1e6],[-40.5,4e7],[-40.5,6e6],[-40,2.6e6],[-40,2.2e7],[-40,8.5e6],
[-39.5,1.0e7],[-39.5,2.5e6],[-39,4e7],[-39,5e6],[-38.5,1.5e7],[-38.5,7e6],[-38,2.5e7],[-38,3.5e6],[-37.5,1.2e7],[-37.5,5.8e6],[-37,3.6e7],[-37,9e6],[-36.5,6.5e7],[-36.5,4.5e6],[-36,1.8e7],[-36,5.7e7],[-35.5,7.5e6],[-35.5,3.9e6],[-35,1.3e7],[-35,2.2e7],[-34.5,6e7],[-34.5,5.5e6],[-34,3.3e6],[-34,9.5e6],[-33.5,4e7],[-33.5,1.6e7],[-33,2.7e6],[-33,6.5e6],[-32.5,2.8e7],[-32.5,1.1e7],[-32,4.5e6],[-32,8e6],[-31.5,1.9e7],[-31.5,3.8e6],[-31,6e6],[-31,3.5e7],[-30.5,1.3e7],[-30.5,9.5e6],[-30,5.5e6],[-30,2.2e7],[-29.5,7e6],[-29.5,3.5e6],[-29,1.0e7],[-29,4e7],[-28.5,6.5e6],[-28.5,1.6e7],[-28,5e6],[-28,8.5e6],[-27.5,2.6e7],[-27.5,6e6],[-27,1.1e7],[-27,3.8e6],[-26.5,7.5e6],[-26.5,3.5e7],[-26,4.5e6],[-26,1.3e7],[-25.5,9.5e6],[-25.5,2e7],[-25,6e6],[-25,3e7],[-24.5,4.2e6],[-24.5,1.0e7],[-24,1.7e7],[-24,5e7],[-23.5,7e6],[-23.5,9.8e7],[-23,4.5e6],[-23,2.5e7],[-22.5,1.2e7],[-22,9.5e7],[-22,5.5e6],[-21.5,1.0e7],[-21.5,3.8e7],[-21,4.2e6],[-21,1.7e7],[-20.5,1.0e8],[-20.5,7e6],[-20,2.6e7],[-20,5e6],
[-19.5,1.4e7],[-19.5,4e6],[-19,9e6],[-19,3.4e7],[-18.5,6e6],[-18.5,1.8e7],[-18,1.1e7],[-18,3.6e6],[-17.5,2.5e7],[-17.5,7.5e6],[-17,8e7],[-17,5e6],[-16.5,1.3e7],[-16.5,2.9e6],[-16,8e7],[-16,6.5e7],[-16,5.8e6],[-15.5,3e7],[-15.5,1.0e7],[-15,2.5e6],[-15,4.5e6],[-14.5,1.6e7],[-14.5,7e6],[-14,2.9e7],[-14,5e6],[-13.5,1.55e6],[-13.5,1.1e7],[-13,2.7e6],[-13,5e7],[-13,6e6],[-12.5,1.6e7],[-12.5,3.8e6],[-12,8e6],[-12,5.5e7],[-11.5,1.3e7],[-11.5,5.5e6],[-11,2.1e7],[-11,6.5e6],[-10.5,1.0e7],[-10.5,4.5e7],[-10,6.8e7],[-10,5e6],[-9.5,1.5e7],[-9.5,7.5e6],[-9,2.3e6],[-9,3e6],[-9,2.7e7],[-8.5,1.2e7],[-8.5,6e6],[-8,2e7],[-8,9e6],[-7.5,4.5e6],[-7.5,1.6e7],[-7,6.5e6],[-7,3.4e7],[-6.5,8e7],[-6.5,1.1e7],[-6,4e6],[-6,2.2e7],[-5.5,8.2e7],[-5.5,7.5e6],[-5,1.3e7],[-5,5e6],[-4.5,3.4e7],[-4.5,9e6],[-4,3.6e6],[-4,1.8e7],[-3.5,6e6],[-3.5,5e7],[-3,1.1e7],[-3,7.5e7],[-2.5,2.7e7],[-2.5,7e6],[-2,4e6],[-2,1.6e7],[-1.5,9e6],[-1.5,5.5e6],[-1,2e7],[-1,1.3e7],[-0.5,7e6],[0,1.75e7],[0,9.5e6],[0,5.5e6],
[0.5,1.2e7],[0.5,2.6e7],[1,1.3e6],[1,6.5e6],[1.5,1.7e7],[1.5,9e6],[2,4.8e6],[2,1.35e7],[2.5,2.1e7],[2.5,7.5e6],[3,1.1e7],[3,4.7e6],[3.5,1.7e7],[3.5,8.5e6],[4,1.4e7],[4,6e6],[4.5,1.0e7],[4.5,2.3e7],[5,8e6],[5,1.6e7],[5.5,1.2e7],[5.5,4.6e6],[6,2.3e7],[6,7e6],[6.5,1.2e7],[6.5,5.2e6],[7,1.5e7],[7,9e6],[7.5,4.6e6],[7.5,2.4e7],[8,1.2e7],[8,7e6],[8.5,6e7],[8.5,3.4e7],[9,1.2e7],[9,8.5e6],[9.5,3.1e6],[9.5,1.6e7],[10,4e6],[10,2e7],[10,1.0e7],[10.5,8e6],[10.5,1.4e7],[11,8.5e7],[11,2.2e6],[11,1.8e7],[11.5,1.1e7],[11.5,6.5e6],[12,8e7],[12,2.3e7],[12,1.3e7],[12.5,1.0e6],[12.5,1.6e7],[13,2.4e6],[13,1.8e7],[13,5e7],[13.5,1.2e7],[13.5,9e6],[14,2.2e7],[14,1.4e7],[14.5,3.4e6],[14.5,1.0e7],[15,1.65e7],[15,5e7],[15.5,1.3e7],[15.5,7e6],[16,2.8e7],[16,1.1e7],[16.5,5.7e6],[16.5,2e7],[17,3.5e7],[17,1.5e7],[17.5,1.2e7],[17.5,4e7],[18,1.4e8],[18,2.5e7],[18,8e6],[18.5,3e7],[18.5,1.2e7],[19,2e7],[19,4.2e7],[19.5,3.3e6],[19.5,1.5e7],[20,2.8e7],[20,1.1e7],
[20.5,1.65e8],[20.5,3.3e7],[20.5,4.5e6],[21,1.2e8],[21,1.6e7],[21.5,2.3e6],[21.5,2.5e7],[22,5e7],[22,1.3e7],[22.5,8.5e6],[22.5,3.2e7],[23,1.95e8],[23,1.8e7],[23.5,9e6],[23.5,4e7],[24,1.0e8],[24,2.2e7],[24.5,7.5e7],[24.5,1.3e7],[25,3e7],[25,8e6],[25.5,4.8e7],[25.5,1.7e7],[26,1.0e8],[26,2.5e7],[26.5,1.2e7],[26.5,3.6e7],[27,8e6],[27,6.5e7],[27.5,2.2e7],[27.5,1.6e7],[28,1.05e8],[28,5e6],[28.5,4e7],[28.5,1.1e7],[29,2.8e7],[29,7e6],[29.5,1.25e6],[29.5,1.6e8],[29.5,1.8e7],[30,5.5e7],[30,1.3e7],[30.5,3.3e7],[30.5,8.5e6],[31,4.5e6],[31,2.2e7],[31.5,7.5e7],[31.5,1.2e7],[32,4.2e7],[32,1.6e7],[32.5,1.2e8],[32.5,2.8e7],[33,1.0e7],[33,5.5e7],[33.5,2e7],[33.5,9e7],
[34,1.1e7],[34,1.6e7],[34,2.6e7],[34,4e7],[34,6.5e7],[34,1.1e8],[34.5,1.3e7],[34.5,2e7],[34.5,3.2e7],[34.5,5e7],[34.5,8e7],[34.5,1.3e8],[35,1.2e7],[35,1.8e7],[35,2.8e7],[35,4.4e7],[35,7e7],[35,1.0e8],[35.5,1.05e7],[35.5,1.5e7],[35.5,2.4e7],[35.5,3.8e7],[35.5,6e7],[35.5,9e7],[35.5,1.5e8],[36,1.3e7],[36,2.1e7],[36,3.4e7],[36,5.5e7],[36,8.5e7],[36,1.2e8],[36.3,5.5e6],[36.3,1e7],[36.3,1.7e7],[36.3,3e7],[36.3,4.8e7],[36.3,7.5e7],[36.3,1.4e8],[36.5,1.4e7],[36.5,2.5e7],[36.5,4.2e7],[36.5,6.5e7],[36.5,1.1e8],[35.8,2.6e8],[35.8,3.5e8],[34.8,1.9e8],[35.3,3e8],[36,2.2e8],[36.2,1.7e8]];
const an23x_core=[[-58,2.5e7],[-57,1.3e7],[-55,1.5e7],[-54,2e7],[-52,1.2e7],[-50,8e6],[-49,1.9e7],[-48,4.2e6],[-47,7e6],[-46,2.2e7],[-45,3.2e7],[-44,9e6],[-43,5e6],[-42,1.3e7],[-42,2.4e7],[-41,9e6],[-40,5e6],[-40,1.4e7],[-39,7.5e6],[-39,2e7],[-38,9.5e6],[-38,4.5e6],[-37,6e6],[-37,1.5e7],[-36,8e6],[-36,1.1e7],[-35,5e6],[-35,9e6],[-34,7e6],[-34,1.2e7],[-33,8.5e6],[-33,2.3e7],[-32,6e6],[-32,1.0e7],[-31,7.5e6],[-31,4.5e6],[-30,8e6],[-30,6.5e6],[-29,5.5e6],[-29,9e6],[-28,6.5e6],[-28,7.5e6],[-27,9e6],[-27,5.5e6],[-26,6e6],[-26,9.5e6],[-25,7.5e6],[-25,5e6],[-24,6.5e6],[-24,8.5e6],[-23,1.0e7],[-23,5.5e6],[-22,7e6],[-22,4.5e6],[-21,8.5e6],[-21,6e6],[-20,4.5e6],[-20,9.5e6],[-19,6e6],[-19,7e6],[-18,8.5e6],[-18,1.5e7],[-17,6e6],[-17,1.1e7],[-16,7.5e6],[-16,4e6],[-15,9e6],[-15,6e6],[-14,5.5e6],[-14,1.2e7],[-13,8e6],[-13,1.0e7],[-12,6.5e6],[-12,4.5e6],[-11,8.5e6],[-11,1.6e7],[-10,6.5e6],[-10,1.2e7],[-9,9e6],[-9,5.5e6],[-8,7e6],[-8,1.5e7],[-7,8.5e6],[-7,5e6],[-6,6.5e6],[-6,1.0e7],[-5,7e6],[-5,1.8e7],[-4,1.1e7],[-4,6e6],[-3,8e6],[-3,1.5e7],[-2,6.5e6],[-2,9e6],[-1,7.5e6],[-1,1.1e7],[0,8e6],[0,1.4e7],[1,9e6],[1,1.8e7],[2,7e6],[2,1.0e7],[3,8e6],[3,1.4e7],[4,8.5e6],[4,2e7],[5,1.1e7],[5,6e6],[6,9e6],[6,1.4e7],[7,1.2e7],[7,7e6],[8,1.0e7],[8,1.5e7],[9,1.2e7],[9,1.8e7],[10,9e6],[10,1.3e7],[11,1.0e7],[11,1.4e7],[12,1.1e7],[12,1.8e7],[13,1.3e7],[13,2.2e7],[14,9e6],[14,1.7e7],[15,1.1e7],[15,2e7],[16,1.4e7],[16,2.4e7],[17,1.1e7],[17,1.8e7],[18,1.5e7],[18,3.5e7],[19,1.2e7],[19,2.6e7],[20,1.8e7],[20,3.4e7],[21,1.3e7],[21,2.2e7],[22,1.7e7],[22,2.8e7],[23,1.3e7],[23,2.5e7],[24,1.6e7],[24,3.5e7],[25,1.2e7],[25,2e7],[26,1.5e7],[26,3e7],[27,1.2e7],[27,2.8e7],[28,1.8e7],[28,3.4e7],[29,1.3e7],[29,2.2e7],[30,1.6e7],[30,3e7],[31,1.5e7],[31,2.6e7],[32,1.9e7],[32,3.4e7],[33,1.4e7],[33,2.5e7],[33.5,4e7],[33.5,1.2e7],[34,2e7],[34,3.2e7],[34,5e7],[34,8e7],[34,1.4e8],[35,1.5e7],[35,2.2e7],[35,3.5e7],[35,5.5e7],[35,8.5e7],[35,1.3e8],[36,1.6e7],[36,2.6e7],[36,4.4e7],[36,7e7],[36,1e8],[36,1.5e8],[36.5,1.2e7],[36.5,1.8e7],[36.5,3.2e7],[36.5,5.2e7],[36.5,8e7],[36.5,1.3e8],[36.5,2e8],[36.5,6e8],[36.5,8.5e8],[36,1e9]];
const an23x_edge=[[-55,3.5e7],[-52,2e7],[-48,2e7],[-46,3.5e7],[-44,2.5e7],[-42,3.6e7],[-40,3.2e7],[-38,1.8e7],[-36,2.8e7],[-34,1.8e7],[-32,3.5e7],[-30,1.6e7],[-28,2.2e7],[-26,1.7e7],[-24,2.6e7],[-22,1.6e7],[-20,1.8e7],[-18,2.2e7],[-16,1.7e7],[-14,2.1e7],[-12,2.4e7],[-10,1.8e7],[-8,3e7],[-6,1.6e7],[-4,2.6e7],[-2,2.2e7],[0,2.4e7],[2,1.8e7],[4,2.8e7],[6,1.8e7],[8,2.2e7],[10,3e7],[-50,4e6],[-47,3e6],[-44,4.5e6],[-41,3.5e6],[-38,4e6],[-36,3.6e6],[-33,4.2e6],[-30,4e6],[-27,4.6e6],[-24,3.8e6],[-21,3.5e6],[-18,4.6e6],[-15,3.8e6],[-12,5e6],[-9,4.2e6],[-6,5.5e6],[-3,4.5e6],[0,4.2e6],[3,6e6],[6,5e6],[9,6e6],[12,5.5e6],[15,6e6],[18,6.5e6],[21,7e6],[24,9e6],[27,1.0e7],[30,1.1e7],[33,8e6],[-45,1.4e7],[-41,1.6e7],[-37,1.1e7],[-33,1.35e7],[-29,1.25e7],[-25,1.2e7],[-21,1.3e7],[-17,1.4e7],[-13,1.3e7],[-9,1.1e7],[-5,1.1e7],[-1,1.6e7],[3,1.9e7],[7,2e7],[11,2.6e7],[15,2.8e7],[19,1.8e7],[23,3e7],[27,2e7],[31,1.9e7]];

// ---- AN2*AN3, Y pol. ----
const an23y_upper=[[-58.3,2.5e9],[-59.6,9.8e8],[-58.3,9e8],[-56,1.2e9],[-54.3,1.12e9],[-51.4,1.8e9],[-50.8,1.3e9],[-49.7,8.5e8],[-51.6,7e8],[-47.4,1.25e9],[-44.5,2.7e9],[-41.3,2.4e9],[-40.4,3.6e9],[-37.8,4.8e9],[-37.6,3.7e9],[-38.8,2.1e9],[-35.1,2.3e9],[-31.7,2.3e9],[-29.1,1.9e9],[-23.9,2.2e9],[-29.7,1.6e9],[-32.5,1.7e9],[-36.5,1.55e9],[-39.8,1.1e9],[-40.3,1.12e9],[-36.9,1.35e9],[-36.8,7e8],[-34.8,1.15e9],[-33.1,1.4e9],[-32.5,1.2e9],[-30.2,8.6e8],[-28.5,8.6e8],[-26.2,1.15e9],[-28.5,1.35e9],[-25.6,1.45e9],[-25,1.1e9],[-22.7,8.4e8],[-21.4,1.3e9],[-19.6,1.15e9],[-18.2,1.4e9],[-16.5,1.35e9],[-15.3,7e8],[-13.6,1.3e9],[-11.3,1.45e9],[-9.5,1.6e9],[-7.8,1.7e9],[-6.7,1.05e9],[-6.4,8.5e8],[-5.5,1.85e9],[-4.2,1.6e9],[-3.2,1.35e9],[-2.1,1.15e9],[-0.9,1.25e9],[0.8,1.35e9],[1.4,9e8],[2.6,1.1e9],[4.9,1.35e9],[5.8,1.1e9],[6.6,1.45e9],[8.4,1.35e9],[9.3,1.5e9],[10.1,1.9e9],[10.7,2.6e9],[10.2,4.8e9],[10.9,9e8],[11.8,1.3e9],[12.4,1.1e9],[13,6.8e8],[13.3,3.7e9],[13.9,6.3e8],[14.4,1.7e9],[14.5,5.6e9],[15,9e8],[15.9,7e8],[16.4,1.45e9],[17.3,7.1e9],[17.3,1.05e9],[18.1,2.2e9],[18.7,1.35e9],[19.2,7.6e8],[20,1.2e9],[20.4,3.8e9],[20.9,1.7e9],[21.5,7e8],[22.1,1.4e9],[22.6,1.05e9],[22.7,4e9],[23.2,2.6e9],[24.1,6.4e8],[24.9,2.3e9],[25.5,1.3e9],[26,8.4e8],[26.6,1.6e9],[27.2,5.8e8],[27.7,2.2e9],[28.3,1.5e9],[28.9,8.2e8],[29.5,4.1e9],[30,1.15e9],[30.9,1.45e9],[31.4,2.25e9],[31.7,6.4e8],[32.3,9e8],[32.9,1.35e9],[33.4,5.3e8],[34,1.1e9],[34.5,2.3e9],[35.1,1.6e9],[35.4,7e8],[35.7,2.1e9],[35.9,1.2e9],[36.2,8e8],[-20,5.5e8],[-14,5e8],[-7,5.5e8],[-3,6e8],[-17,4.5e8],[-25,5e8],[-44,5e8],[-40,4.2e8],[-12,5.5e8],
[15,5e8],[17,6e8],[18,4e8],[19,5.5e8],[20,7e8],[21,4.5e8],[22,6e8],[23,8e8],[24,5e8],[25,7e8],[26,4.5e8],[27,9e8],[28,6e8],[29,1.1e9],[30,7e8],[31,5e8],[32,1.1e9],[33,7e8],[34,1.3e9],[33,9e8],[31,1e9],[29,8e8],[25,1.0e9],[21,1.0e9],[19,9e8],[16,1.1e9],[13,1.0e9],[12,5e8],[11,7.5e8]];
const an23y_col=[[-61,2.9e9],[-60.5,2.6e9],[-60,2.8e9],[-61,1.7e9],[-60.5,1.3e9],[-61,1.1e9],[-60,9.2e8],[-61,7.3e8],[-60.5,5.8e8],[-61,5e8],[-60,4e8],[-61,3.5e8],[-60.5,3.8e8],[-59.5,3.6e8],[-61,2.6e8],[-60,2.2e8],[-61,1.9e8],[-60.5,1.5e8],[-59.5,1.4e8],[-61,1.3e8],[-60,1.1e8],[-61,1.02e8],[-60.5,9e7],[-61,8e7],[-59.8,7e7],[-60.5,6.4e7],[-61,5e7],[-60,5.5e7],[-61,4.3e7],[-60.5,3.8e7],[-61,3.3e7],[-60,1.8e7],[-59.5,1.7e9],[-59.5,1.0e9],[-60,6.5e8],[-59.3,2.8e8],[-59.3,1.2e8],[-59.5,5.5e7]];
const an23y_main=[[-59,3.6e8],[-59,1.2e8],[-59,6e7],[-58.5,2.5e8],[-58.5,1.6e8],[-58,3.2e8],[-58,9e7],[-57.5,2e8],[-57.5,1.4e8],[-56.5,3e8],[-56,1.9e8],[-55.5,2.1e8],[-55,1.4e8],[-54.5,1.9e8],[-54,2e8],[-53,9.5e7],[-52.5,8e7],[-52,6e7],[-51.5,1.6e8],[-51,1.0e8],[-51,3.2e8],[-50.5,3.7e8],[-50.5,1.1e8],[-50,7e7],[-50,2.2e8],[-49.5,5e7],[-49.5,1.3e8],[-49,2e8],[-49,5.8e7],[-48.5,9e7],[-48.5,3.4e8],[-48,1.6e8],[-48,4.8e7],
[-47.5,2.6e8],[-47.5,1.1e8],[-47,3.9e8],[-47,1.8e8],[-46.5,7e7],[-46.5,1.4e8],[-46,2.9e8],[-46,9e7],[-45.5,2.2e8],[-45.5,1.2e8],[-45,1.6e8],[-44.5,3.2e8],[-44.5,6e7],[-44,2e8],[-44,1.0e8],[-43.5,4.9e8],[-43.5,1.4e8],[-43,2.5e8],[-42.5,8e7],[-42.5,1.7e8],[-42,3e8],[-42,4.8e7],[-41.5,1.2e8],[-41.5,2.2e8],[-41,9e7],[-41,6e7],[-40.5,4.2e8],[-40.5,1.5e8],[-40,2.8e8],[-40,5.5e7],[-39.5,4e8],[-39.5,1.1e8],[-39,1.9e8],[-39,7.5e7],[-38.5,2.5e8],[-38.5,4.6e7],[-38,1.3e8],[-38,3.3e8],[-37.5,9e7],[-37.5,1.7e8],[-37,4.5e8],[-37,6e7],[-36.5,2.1e8],[-36.5,1.1e8],[-36,3.6e7],[-36,1.5e8],[-35.5,3e8],[-35.5,8e7],[-35,5e7],[-35,2e8],[-34.5,1.2e8],[-34.5,3.1e7],[-34,2.6e8],[-34,9.5e7],[-33.5,1.6e8],[-33.5,4.5e7],[-33,4e8],[-33,7e7],[-32.5,2.1e8],[-32.5,1.3e8],[-32,3.2e8],[-32,5.2e7],[-31.5,1.0e8],[-31.5,1.8e8],[-31,2.7e8],[-31,8e7],[-30.5,1.4e8],[-30.5,4.6e7],[-30,2.2e8],[-30,1.1e8],
[-29.5,3e8],[-29.5,6.5e7],[-29,1.6e8],[-29,4.2e7],[-28.5,2.1e8],[-28.5,9e7],[-28,1.2e8],[-28,3.3e8],[-27.5,5e7],[-27.5,2.5e8],[-27,1.5e8],[-27,7e7],[-26.5,4.5e8],[-26.5,1.0e8],[-26,3e7],[-26,2e8],[-25.5,5.2e8],[-25.5,1.3e8],[-25,8e7],[-25,2.6e8],[-24.5,1.7e8],[-24.5,5e7],[-24,3.5e8],[-24,1.1e8],[-23.5,2.2e8],[-23.5,6.5e7],[-23,4.2e8],[-23,1.4e8],[-22.5,4.5e7],[-22.5,9e7],[-22,2.9e8],[-22,5.6e8],[-21.5,1.8e8],[-21.5,7.5e7],[-21,3.5e8],[-21,1.2e8],[-20.5,5.5e7],[-20.5,2.4e8],[-20,1.5e8],[-20,4.2e7],[-19.5,3e8],[-19.5,9.5e7],[-19,1.9e8],[-19,6e7],[-18.5,4.6e8],[-18.5,1.3e8],[-18,2.3e8],[-18,8e7],[-17.5,1.6e8],[-17.5,4.5e7],[-17,3e8],[-17,1.1e8],[-16.5,2e8],[-16.5,6.5e7],[-16,1.4e8],[-16,3.8e7],[-15.5,2.7e8],[-15.5,9e7],[-15,1.7e8],[-15,5.5e7],[-14.5,3.5e8],[-14.5,1.2e8],[-14,2.2e8],[-14,7.5e7],[-13.5,1.5e8],[-13.5,4.8e7],[-13,2.8e8],[-13,1.0e8],[-12.5,1.9e8],[-12.5,6e7],[-12,4e8],[-12,1.3e8],[-11.5,2.4e8],[-11.5,8.5e7],[-11,1.6e8],[-11,5e7],[-10.5,3e8],[-10.5,1.1e8],[-10,2e8],[-10,7e7],
[-9.5,5.5e8],[-9.5,1.4e8],[-9,2.6e8],[-9,9e7],[-8.5,1.7e8],[-8.5,4.5e7],[-8,3.4e8],[-8,1.2e8],[-7.5,2.1e8],[-7.5,7e7],[-7,1.5e8],[-7,5.8e8],[-6.5,1.0e8],[-6.5,3.8e7],[-6,2.5e8],[-6,8e7],[-5.5,1.3e8],[-5.5,5.5e7],[-5,2e8],[-5,1.1e8],[-4.5,6.5e7],[-4.5,5e8],[-4,1.6e8],[-4,9e7],[-3.5,2.6e8],[-3.5,4.5e7],[-3,1.2e8],[-3,7.5e7],[-2.5,2.9e8],[-2.5,1.0e8],[-2,1.5e8],[-2,4.5e7],[-1.5,8.5e7],[-1.5,2e8],[-1,1.2e8],[-1,6.5e7],[-0.5,1.7e8],[-0.5,9.5e7],[0,1.3e8],[0,5.5e7],[0.5,1.0e8],[0.5,2.2e8],[1,7.5e7],[1,1.4e8],[1.5,1.1e8],[1.5,5.8e7],[2,1.7e8],[2,9e7],[2.5,1.25e8],[2.5,7e7],[3,1.9e8],[3,1.0e8],[3.5,8e7],[3.5,1.5e8],[4,1.2e8],[4,6.5e7],[4.5,2.1e8],[4.5,9.5e7],[5,1.4e8],[5,7.5e7],[5.5,1.1e8],[5.5,6e7],[6,1.8e8],[6,9e7],[6.5,1.3e8],[6.5,4.5e7],[7,2.4e8],[7,8e7],[7.5,1.5e8],[7.5,1.1e8],[8,3.4e8],[8,6e7],[8.5,1.9e8],[8.5,9.5e7],[9,1.3e8],[9,4e7],[9.5,2.2e8],[9.5,7e7],[10,3.3e8],[10,1.1e8],
[10.5,1.6e8],[10.5,3.8e7],[11,2.6e8],[11,8.5e7],[11.5,1.3e8],[11.5,5e7],[12,2e8],[12,1e8],[12.5,3e8],[12.5,6.5e7],[13,1.5e8],[13,4e7],[13.5,2.3e8],[13.5,1.1e8],[14,3.6e8],[14,7.5e7],[14.5,1.7e8],[14.5,5e7],[15,2.6e8],[15,9.5e7],[15.5,1.3e8],[15.5,3.6e7],[16,2e8],[16,6.5e7],[16.5,4.2e8],[16.5,1.2e8],[17,2.8e8],[17,8.5e7],[17.5,1.6e8],[17.5,3.6e7],[18,2.3e8],[18,5.5e7],[18.5,3.5e8],[18.5,1.1e8],[19,1.8e8],[19,7e7],[19.5,4.5e8],[19.5,1.4e8],[20,2.6e8],[20,9e7],[20.5,1.6e8],[20.5,5.5e7],[21,3.3e8],[21,1.2e8],[21.5,2e8],[21.5,7.5e7],[22,4.8e8],[22,1.5e8],[22.5,2.4e8],[22.5,9.5e7],[23,3.6e8],[23,1.3e8],[23.5,1.8e8],[23.5,6.5e7],[24,2.8e8],[24,1.1e8],[24.5,4.2e8],[24.5,1.6e8],[25,2.2e8],[25,8e7],[25.5,3.2e8],[25.5,1.3e8],[26,1.9e8],[26,5.5e7],[26.5,2.6e8],[26.5,1.0e8],[27,4e8],[27,1.5e8],[27.5,2.1e8],[27.5,7.5e7],[28,3e8],[28,1.2e8],[28.5,1.8e8],[28.5,6e7],[29,2.5e8],[29,9.5e7],[29.5,3.8e8],[29.5,1.4e8],[30,2e8],[30,5e7],[30.5,3e8],[30.5,1.1e8],[31,1.7e8],[31,7e7],[31.5,4.2e8],[31.5,1.3e8],[32,2.4e8],[32,5.5e7],[32.5,1.6e8],[32.5,8.5e7],[33,3.2e8],[33,1.1e8],[33.5,2e8],[33.5,4.5e7],
[34,3e7],[34,5e7],[34,8e7],[34,1.3e8],[34,2.2e8],[34,3.8e8],[34,6.5e8],[34.5,4e7],[34.5,6.5e7],[34.5,1.0e8],[34.5,1.6e8],[34.5,2.8e8],[34.5,5e8],[34.5,9e8],[35,3.5e7],[35,5.5e7],[35,9e7],[35,1.4e8],[35,2.4e8],[35,4e8],[35,7e8],[35,1.3e9],[35.5,2.9e7],[35.5,4.5e7],[35.5,7e7],[35.5,1.15e8],[35.5,1.9e8],[35.5,3.2e8],[35.5,5.5e8],[35.5,1.0e9],[36,3.2e7],[36,5e7],[36,8e7],[36,1.25e8],[36,2.1e8],[36,3.5e8],[36,6e8],[36,1.6e9],[36.3,4e7],[36.3,6e7],[36.3,9.5e7],[36.3,1.5e8],[36.3,2.6e8],[36.3,4.5e8],[36.3,8e8],[36.3,1.2e9],[36.3,2.2e9],[36.5,5e7],[36.5,8.5e7],[36.5,1.3e8],[36.5,1.8e8],[36.5,2.3e9],[36.5,1.9e9],[36.5,1.4e9],[34.2,1.5e9],[34.8,2.2e9],[33.8,1.3e9]];
const an23y_core=[[-58,5e7],[-58,1.0e8],[-57,1.7e8],[-56,7e7],[-56,1.2e8],[-55,2.5e8],[-54,9e7],[-54,1.4e8],[-53,2.2e8],[-52,1.2e8],[-52,1.8e8],[-51,7e7],[-50,1.5e8],[-50,2.7e8],[-49,9e7],[-48,1.2e8],[-48,2.3e8],[-47,6.5e7],[-47,1.4e8],[-46,1.1e8],[-46,2e8],[-45,8e7],[-45,2.6e8],[-44,1.3e8],[-44,1.7e8],[-43,7e7],[-43,1.1e8],[-42,1.4e8],[-42,2.2e8],[-41,1.6e8],[-41,3.4e8],[-40,8e7],[-40,1.2e8],[-40,2e8],[-39,1.4e8],[-39,2.6e8],[-38,9e7],[-38,1.9e8],[-37,1.3e8],[-37,2.4e8],[-36,6.5e7],[-36,2.7e8],[-35,1.1e8],[-35,1.5e8],[-34,6e7],[-34,1.8e8],[-33,1.2e8],[-33,2.4e8],[-32,8.5e7],[-32,1.6e8],[-31,1.4e8],[-31,2.1e8],[-30,6.5e7],[-30,1.7e8],[-29,1.2e8],[-29,2.3e8],[-28,7e7],[-28,1.6e8],[-27,1.1e8],[-27,2e8],[-26,1.4e8],[-26,2.8e8],[-25,1.0e8],[-25,1.8e8],[-24,6.5e7],[-24,1.4e8],[-23,1.1e8],[-23,2.4e8],[-22,1.3e8],[-22,1.9e8],[-21,9e7],[-21,2.6e8],[-20,1.1e8],[-20,2e8],[-19,1.3e8],[-19,2.5e8],[-18,1.0e8],[-18,1.6e8],[-17,7e7],[-17,1.4e8],[-16,1.1e8],[-16,2.3e8],[-15,1.3e8],[-15,2e8],[-14,9e7],[-14,1.6e8],[-13,1.3e8],[-13,6.5e7],[-12,9.5e7],[-12,1.7e8],[-11,1.2e8],[-11,2.2e8],[-10,9e7],[-10,1.5e8],[-9,1.1e8],[-9,1.9e8],[-8,8e7],[-8,1.5e8],[-7,1.0e8],[-7,2.5e8],[-6,1.2e8],[-6,1.7e8],[-5,8e7],[-5,1.5e8],[-4,1.1e8],[-4,2.1e8],[-3,9e7],[-3,1.6e8],[-2,1.2e8],[-2,7e7],[-1,9e7],[-1,1.5e8],[0,1.1e8],[0,8e7],[1,1.2e8],[1,9e7],[2,1.3e8],[2,7.5e7],[3,1.2e8],[3,1.5e8],[4,9e7],[4,1.6e8],[5,1.1e8],[5,1.9e8],[6,1.2e8],[6,7e7],[7,1.3e8],[7,1.0e8],[8,1.5e8],[8,9e7],[9,1.8e8],[9,1.1e8],[10,1.4e8],[10,8e7],[11,1.2e8],[11,1.8e8],[12,1.5e8],[12,7.5e7],[13,1.1e8],[13,2.2e8],[14,1.4e8],[14,1.9e8],[15,1.2e8],[15,1.7e8],[16,9e7],[16,1.5e8],[17,1.2e8],[17,2.1e8],[18,1.4e8],[18,9e7],[19,1.1e8],[19,2.4e8],[20,1.3e8],[20,1.8e8],[21,1.0e8],[21,1.6e8],[22,1.2e8],[22,2.2e8],[23,1.7e8],[23,9e7],[24,1.4e8],[24,2e8],[25,1.2e8],[25,1.6e8],[26,1.0e8],[26,2.4e8],[27,1.2e8],[27,1.9e8],[28,1.6e8],[28,9e7],[29,1.2e8],[29,1.8e8],[30,1.4e8],[30,2.5e8],[31,1.1e8],[31,2.2e8],[32,1.4e8],[32,1.9e8],[33,8e7],[33,1.5e8],[33.5,1.2e8],[33.5,3e8],[34,1.8e8],[34,1.1e8],[34,5e8],[34,9e8],[35,1.2e8],[35,2e8],[35,3.2e8],[35,5.5e8],[35,1.0e9],[36,1.0e8],[36,1.7e8],[36,2.8e8],[36,4.5e8],[36,8e8],[36,1.2e9],[36.5,4e7],[36.5,6.5e7],[36.5,1.05e8],[36.5,2.5e8],[36.5,4e8],[36.5,7e8],[36.5,1.1e9]];
const an23y_edge=[[-56,2.6e8],[-53,4e8],[-50,4.5e7],[-47,3e8],[-44,4e8],[-41,4.5e7],[-38,4e8],[-35,3.4e8],[-32,4e7],[-29,3.8e8],[-26,4e7],[-23,3e8],[-20,3.5e8],[-17,4e7],[-14,4.2e8],[-11,3.6e8],[-8,4.6e8],[-5,3e8],[-2,3.5e8],[1,2.8e8],[4,3.2e8],[7,3.8e8],[10,2.3e8],[13,3e8],[16,2.8e8],[19,3.2e8],[22,3.6e8],[25,4.5e8],[28,4e8],[31,3.4e8],[33,4.5e8],[-54,5e7],[-51,2.4e8],[-48,7e7],[-45,1.8e8],[-42,1.1e8],[-39,5.5e7],[-36,1.2e8],[-33,9e7],[-30,3e8],[-27,5.5e7],[-24,2.2e8],[-21,5e7],[-18,2.8e8],[-15,7e7],[-12,2.5e8],[-9,5.5e7],[-6,3.2e8],[-3,6e7],[0,2e8],[3,5.5e7],[6,2.6e8],[9,7e7],[12,4.5e7],[15,6e7],[18,4.5e7],[21,6e7],[24,5.5e7],[27,6e7],[30,8e7],[32,4.5e7]];
const an23y_low=[[-57.4,2.6e7],[-51.4,2.8e7],[-45.1,3.2e7],[-43.4,2.6e7],[-40.6,7.5e6],[-37.1,9e6],[-33.1,1.5e7],[-31.7,5.5e6],[-25.6,1.25e7],[-22.2,8e6],[-20.4,1.2e7],[-19.5,2.7e7],[-18.2,1.1e7],[-16.1,2e7],[-14.5,1.5e7],[-12.4,2.3e7],[-12.2,2.8e7],[-10.7,1.3e7],[-6.7,1.55e7],[-4.2,3.2e7],[-3.3,1.1e7],[0.4,1.2e7],[4.2,1.7e7],[5.7,1.2e7],[7.6,5.6e6],[11,2.2e7],[13.9,2e7],[14.4,8e6],[17.3,1.55e7],[17.1,1.1e7],[20.4,1.3e7],[23,1e7],[25.8,1.05e7],[28.1,1.05e7],[26.7,2e7],[29.3,2.8e7],[30.8,1.8e7],[32.2,2e7],[22.9,3e7],[25.1,4e7],[24,7e7]];

const PANELS=[
  an34x_upper.concat(an34x_lower,an34x_core,an34x_edge),
  an34y_upper.concat(an34y_lower,an34y_core,an34y_edge),
  an23x_upper.concat(an23x_lower,an23x_core,an23x_edge),
  an23y_upper.concat(an23y_col,an23y_main,an23y_core,an23y_edge,an23y_low)
];

// minor tick positions (log10 of 2..9 x 10^n)
const MINOR_LOG=[];
for(let e=6;e<10;e++){for(let m=2;m<10;m++){MINOR_LOG.push(e+Math.log10(m));}}

const F='DejaVu Sans';
const GRIDS=[
  {left:97,top:85,width:321,height:398},
  {left:482,top:85,width:321,height:398},
  {left:97,top:562,width:321,height:399},
  {left:482,top:562,width:321,height:399}
];
const fmtX=v=>v<0?'\u2212'+Math.abs(v):String(v);

const option={
  animation:false,
  backgroundColor:'#fff',
  grid:GRIDS.map(g=>Object.assign({show:true,borderColor:'#000',borderWidth:1,backgroundColor:'transparent',containLabel:false,outerBoundsMode:'none'},g)),
  xAxis:GRIDS.map((g,i)=>({
    type:'value',gridIndex:i,min:X_MIN,max:X_MAX,
    axisLine:{show:true,onZero:false,lineStyle:{color:'#000',width:1}},
    axisTick:{show:true,customValues:X_TICKS,length:5,lineStyle:{color:'#000',width:1}},
    axisLabel:{customValues:X_TICKS,formatter:fmtX,fontSize:14,fontFamily:F,color:'#000',margin:12},
    splitLine:{show:false}
  })),
  yAxis:GRIDS.map((g,i)=>({
    type:'log',logBase:10,gridIndex:i,min:Y_MIN,max:Y_MAX,
    axisLine:{show:true,onZero:false,lineStyle:{color:'#000',width:1}},
    axisTick:{show:true,length:5,lineStyle:{color:'#000',width:1}},
    axisLabel:{margin:12,formatter:v=>'{b|10}{e|'+Math.round(Math.log10(v))+'}',
      rich:{b:{fontSize:14,fontFamily:F,color:'#000',lineHeight:20},e:{fontSize:10,fontFamily:F,color:'#000',lineHeight:9,verticalAlign:'top'}}},
    splitLine:{show:false}
  })).concat(GRIDS.map((g,i)=>({
    type:'value',gridIndex:i,min:6,max:10,position:'left',
    axisLine:{show:false,onZero:false},axisLabel:{show:false},splitLine:{show:false},
    axisTick:{show:true,customValues:MINOR_LOG,length:2.5,lineStyle:{color:'#000',width:0.8}}
  }))),
  series:PANELS.map((d,i)=>({
    type:'scatter',xAxisIndex:i,yAxisIndex:i,data:d,symbol:'circle',symbolSize:7,
    itemStyle:{color:'#000',opacity:1},silent:true,emphasis:{disabled:true}
  })),
  graphic:[
    {type:'text',x:438,y:17,style:{text:SUPTITLE,fontSize:28,fontFamily:F,fill:'#000',align:'center',verticalAlign:'middle'}},
    {type:'text',x:257.5,y:67.5,style:{text:TITLES[0],fontSize:25,fontFamily:F,fill:'#000',align:'center',verticalAlign:'middle'}},
    {type:'text',x:642.5,y:67.5,style:{text:TITLES[1],fontSize:25,fontFamily:F,fill:'#000',align:'center',verticalAlign:'middle'}},
    {type:'text',x:257.5,y:545,style:{text:TITLES[2],fontSize:25,fontFamily:F,fill:'#000',align:'center',verticalAlign:'middle'}},
    {type:'text',x:642.5,y:545,style:{text:TITLES[3],fontSize:25,fontFamily:F,fill:'#000',align:'center',verticalAlign:'middle'}},
    {type:'text',x:437.5,y:1027.5,style:{text:X_LABEL,fontSize:24,fontFamily:F,fill:'#000',align:'center',verticalAlign:'middle'}},
    {type:'text',x:25,y:517,rotation:Math.PI/2,style:{text:Y_LABEL,fontSize:24,fontFamily:F,fill:'#000',align:'center',verticalAlign:'middle'}}
  ]
};
const chart=echarts.init(document.getElementById('c'),null,{renderer:'canvas'});
chart.setOption(option);
</script></body></html>
